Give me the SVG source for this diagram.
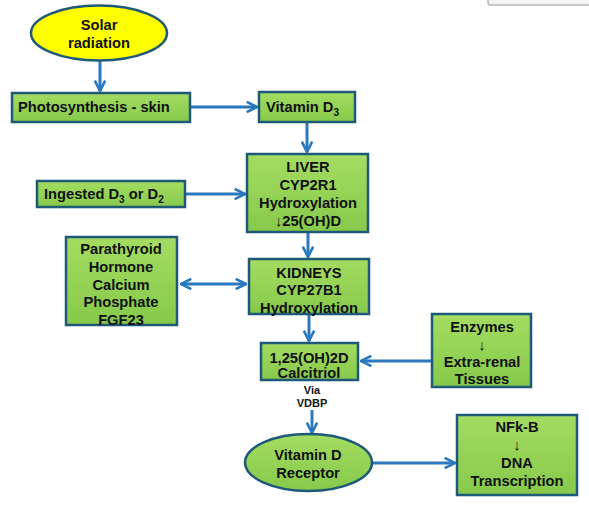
<svg xmlns="http://www.w3.org/2000/svg" width="589" height="511" viewBox="0 0 589 511">
<defs>
<linearGradient id="g" x1="0" y1="0" x2="0" y2="1"><stop offset="0" stop-color="#a4dc62"/><stop offset="1" stop-color="#86c94a"/></linearGradient>
<marker id="ah" viewBox="0 0 10 10" refX="9" refY="5" markerWidth="4.3" markerHeight="4.3" orient="auto-start-reverse"><path d="M1,1 L9,5 L1,9" fill="none" stroke="#2a78bd" stroke-width="2"/></marker>
</defs>
<style>
.box{fill:url(#g);stroke:#1e5a78;stroke-width:2.5}
.t{font-family:"Liberation Sans",Arial,sans-serif;font-weight:bold;font-size:14.7px;fill:#111;text-anchor:middle}
.l{text-anchor:start}
.s{font-size:11px}
.c{fill:none;stroke:#2a78bd;stroke-width:3;marker-end:url(#ah)}
</style>
<rect width="589" height="511" fill="#fff"/>
<rect x="488" y="-6" width="106" height="11" rx="3" fill="#f4f4f4" stroke="#b8b8b8" stroke-width="1.5"/>
<g id="connectors">
<path class="c" d="M100,61 V91"/>
<path class="c" d="M191,107 H257"/>
<path class="c" d="M307,123 V152"/>
<path class="c" d="M186,194 H245"/>
<path class="c" d="M308,233 V257"/>
<path class="c" d="M181,284 H246" style="marker-start:url(#ah)"/>
<path class="c" d="M309,315 V341"/>
<path class="c" d="M431,361 H361"/>
<path class="c" d="M312,410 V433"/>
<path class="c" d="M373,463 H455"/>
</g>
<g id="solar"><ellipse cx="99" cy="33" rx="68" ry="27.5" fill="#ffff00" stroke="#1e5a78" stroke-width="2.5"/><text class="t" x="99" y="30">Solar</text><text class="t" x="99" y="48">radiation</text></g>
<g id="photosynthesis"><rect class="box" x="12" y="93" width="178" height="29"/><text class="t l" x="18" y="112">Photosynthesis - skin</text></g>
<g id="vitd3"><rect class="box" x="259" y="92" width="96" height="30"/><text class="t l" x="266" y="112">Vitamin D<tspan font-size="10" dy="4">3</tspan></text></g>
<g id="liver"><rect class="box" x="247" y="154" width="121" height="78"/><text class="t" x="308" y="172">LIVER</text><text class="t" x="308" y="190">CYP2R1</text><text class="t" x="308" y="208">Hydroxylation</text><text class="t" x="308" y="226">↓25(OH)D</text></g>
<g id="ingested"><rect class="box" x="37" y="181" width="148" height="26"/><text class="t l" x="44" y="199">Ingested D<tspan font-size="10" dy="4">3</tspan><tspan dy="-4"> or D</tspan><tspan font-size="10" dy="4">2</tspan></text></g>
<g id="parathyroid"><rect class="box" x="66" y="237" width="111" height="88"/><text class="t" x="121" y="254">Parathyroid</text><text class="t" x="121" y="272">Hormone</text><text class="t" x="121" y="290">Calcium</text><text class="t" x="121" y="307">Phosphate</text><text class="t" x="121" y="325">FGF23</text></g>
<g id="kidneys"><rect class="box" x="249" y="259" width="120" height="55"/><text class="t" x="309" y="278">KIDNEYS</text><text class="t" x="309" y="295">CYP27B1</text><text class="t" x="309" y="313">Hydroxylation</text></g>
<g id="calcitriol"><rect class="box" x="261" y="343" width="97" height="37"/><text class="t" x="309" y="363">1,25(OH)2D</text><text class="t" x="309" y="378">Calcitriol</text></g>
<g id="enzymes"><rect class="box" x="432" y="314" width="99" height="73"/><text class="t" x="482" y="332">Enzymes</text><text class="t" x="482" y="350" font-weight="normal">↓</text><text class="t" x="482" y="367">Extra-renal</text><text class="t" x="482" y="384">Tissues</text></g>
<text class="t s" x="312" y="394">Via</text><text class="t s" x="312" y="407">VDBP</text>
<g id="receptor"><ellipse cx="308.5" cy="462.5" rx="63.5" ry="28.5" fill="url(#g)" stroke="#1e5a78" stroke-width="2.5"/><text class="t" x="308" y="460">Vitamin D</text><text class="t" x="308" y="478">Receptor</text></g>
<g id="nfkb"><rect class="box" x="457" y="415" width="120" height="80"/><text class="t" x="517" y="432">NFk-B</text><text class="t" x="517" y="450" font-weight="normal">↓</text><text class="t" x="517" y="468">DNA</text><text class="t" x="517" y="486">Transcription</text></g>
</svg>
